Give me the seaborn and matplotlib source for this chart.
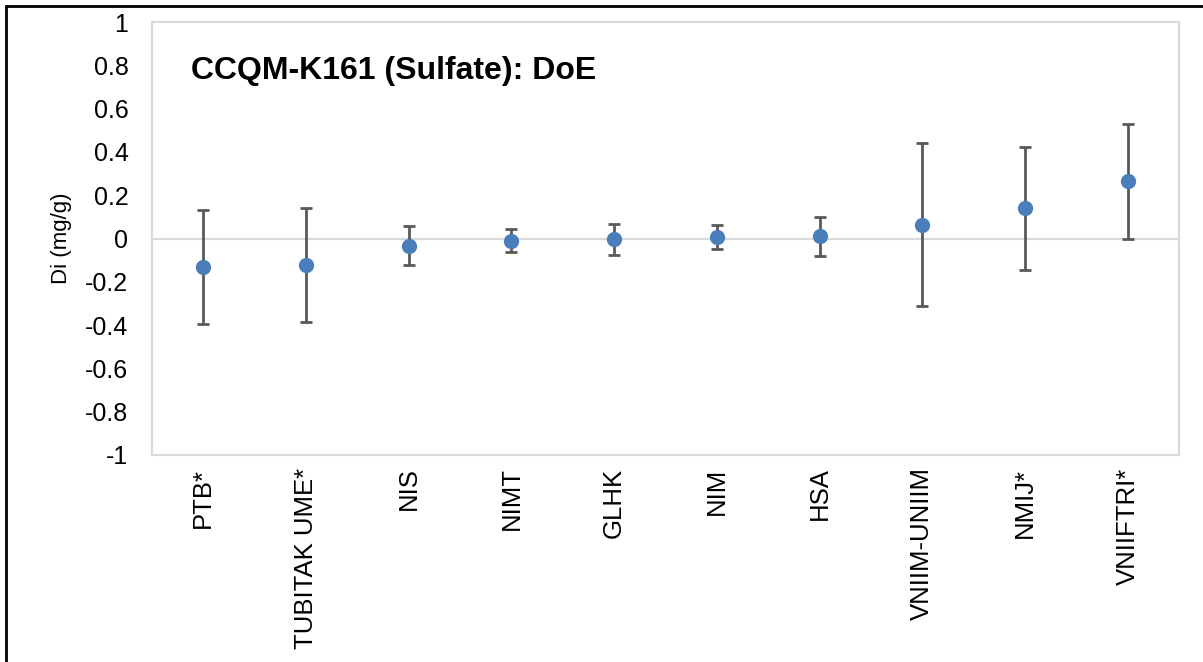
import numpy as np
import pandas as pd
import matplotlib
matplotlib.use("Agg")
import matplotlib.pyplot as plt
from matplotlib.lines import Line2D
import seaborn as sns

categories = ["PTB*", "TUBITAK UME*", "NIS", "NIMT", "GLHK", "NIM", "HSA",
              "VNIIM-UNIIM", "NMIJ*", "VNIIFTRI*"]
di_values = [-0.131, -0.122, -0.033, -0.010, -0.004, 0.007, 0.010, 0.064, 0.140, 0.264]
expanded_u = [0.263, 0.265, 0.089, 0.053, 0.073, 0.055, 0.090, 0.377, 0.284, 0.264]
y_ticks = [1, 0.8, 0.6, 0.4, 0.2, 0, -0.2, -0.4, -0.6, -0.8, -1]
y_tick_labels = ["1", "0.8", "0.6", "0.4", "0.2", "0", "-0.2", "-0.4", "-0.6", "-0.8", "-1"]
title_text = "CCQM-K161 (Sulfate): DoE"
y_label = "Di (mg/g)"

sns.set_theme(style="white")
plt.rcParams["font.family"] = ["Liberation Sans", "DejaVu Sans"]

W, H = 1203, 662
fig = plt.figure(figsize=(W / 100, H / 100), dpi=100)
ax = fig.add_axes([152 / W, 1 - 455 / H, (1179 - 152) / W, (455 - 22) / H])

df = pd.DataFrame({"lab": categories, "di": di_values, "u": expanded_u})
pos = np.arange(len(categories))

ax.axhline(0, color="#d9d9d9", lw=1.5, zorder=1)
ax.errorbar(pos, df["di"], yerr=df["u"], fmt="none", ecolor="#595959",
            elinewidth=2.0, capsize=4.5, capthick=2.0, zorder=2)
sns.stripplot(data=df, x="lab", y="di", jitter=False, size=11,
              color="#4a7ebb", linewidth=0, ax=ax, zorder=3)

ax.set_xlim(-0.5, len(categories) - 0.5)
ax.set_ylim(-1, 1)
ax.set_yticks(y_ticks)
ax.set_yticklabels(y_tick_labels)
ax.set_xticks(pos)
ax.set_xticklabels(categories, rotation=90, va="top", ha="center")
ax.tick_params(axis="y", length=0, pad=17, labelsize=18, colors="black")
ax.tick_params(axis="x", length=0, pad=9, labelsize=18.5, colors="black")
ax.set_xlabel("")
ax.set_ylabel(y_label, fontsize=16, color="black")
ax.yaxis.set_label_coords((61 - 152) / (1179 - 152), 0.5)
ax.yaxis.label.set_va("center")
for s in ax.spines.values():
    s.set_color("#d9d9d9")
    s.set_linewidth(1.5)
ax.grid(False)

fig.text(191 / W, 1 - 79 / H, title_text, fontsize=23, fontweight="bold",
         ha="left", va="baseline", color="black")

# outer frame (top and left edges visible)
fig.add_artist(Line2D([5.5 / W, 1.0], [1 - 5.5 / H, 1 - 5.5 / H],
                      transform=fig.transFigure, color="black", lw=2.0))
fig.add_artist(Line2D([5.5 / W, 5.5 / W], [1 - 5.5 / H, 0.0],
                      transform=fig.transFigure, color="black", lw=2.0))

fig.savefig("out.png", dpi=100)
